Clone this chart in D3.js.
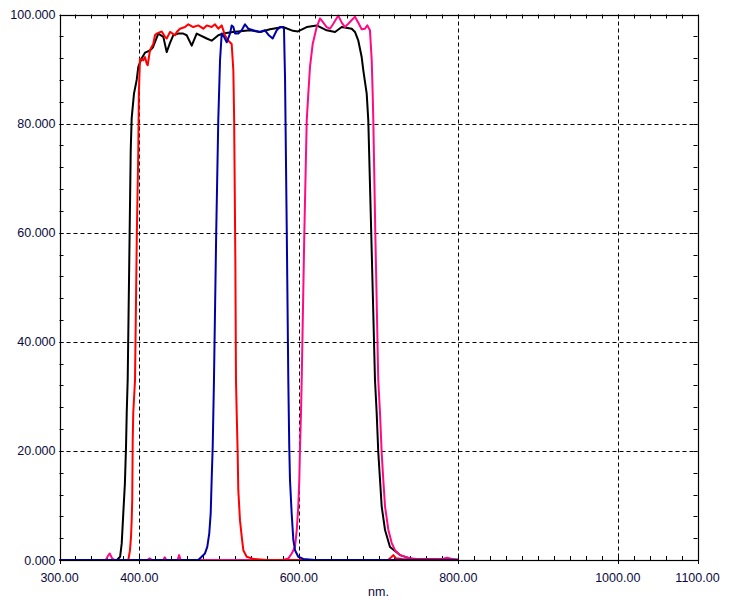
<!DOCTYPE html>
<html><head><meta charset="utf-8">
<script src="https://cdn.jsdelivr.net/npm/d3@7"></script>
<style>
body{margin:0;background:#fff;}
svg{display:block;}
text{font-family:"Liberation Sans",Arial,sans-serif;font-size:12.5px;fill:#0a0a40;}
</style></head>
<body><svg id="c" width="732" height="600"></svg>
<script>
// ---- data (wavelength nm, transmission %) ----
const blackSeries = [[300,0],[372,0],[376,0.6],[378,3],[380,8.6],[382,14],[383.4,20.7],[384.3,27],[385.5,33],[387.5,55],[389.3,75],[390.5,81],[393.4,85.5],[396.8,88],[398.8,90.4],[403.1,92],[407.2,93],[413.5,93.4],[417.2,94],[423.9,96.5],[430.2,95.9],[434.4,93.1],[438.6,94.8],[442.7,96.2],[448.6,96.5],[455.2,96.5],[459.5,96.2],[465.8,94.3],[472,96.5],[484.6,95.6],[490.8,95.2],[499.1,96.2],[505,96.5],[517.6,96.8],[538.9,97.1],[551.4,96.8],[564,97.3],[580.3,97.7],[592.8,97],[599,96.9],[610,97.7],[622.5,98],[635,97.1],[645.5,96.8],[653.9,97.7],[666.4,97.4],[670.5,96.8],[674.7,95.2],[678.9,92.2],[681,89.7],[685.2,85.5],[687.2,80.6],[690,65],[693,48],[695.6,33],[697.7,27],[699.7,19.8],[701.9,14.7],[704,9.8],[708.2,5.5],[714.4,2.4],[727,0.9],[739.5,0.3],[748,0],[800,0]];
const redSeries = [[300,0],[386.3,0],[388.4,1.8],[389.7,4.3],[390.5,7.3],[391.2,11],[391.8,22],[392.5,27],[394.7,33],[397,60],[398.8,75],[399.5,85.5],[400.9,91.9],[405.1,91.6],[407.2,92.2],[409.3,91],[410.6,90.7],[413.5,93.5],[417.6,94.6],[419.7,96.2],[421.9,96.5],[428.2,96.9],[432.3,95.9],[434.4,95.6],[438.6,96.8],[444.9,96.2],[447,96.8],[451.1,97.4],[457.4,97.7],[461.5,98.2],[467.8,97.7],[474,98],[480.3,97.4],[484.6,98],[490.8,97.7],[495,98.2],[499.1,97.4],[503.4,98],[507.5,96.2],[511.7,95.2],[515.9,94.6],[518,89.7],[519,80.6],[520.5,55],[521.3,33],[522.2,26.9],[523.4,19.6],[524.2,12.8],[526.3,7.3],[528.5,4.3],[530.5,1.8],[534.7,0.6],[543,0.2],[560,0],[712,0],[716,0.5],[718.6,0.9],[722,0.3],[730,0.2],[800,0.1]];
const blueSeries = [[300,0],[474,0],[478.3,0.6],[482.4,1.2],[485.3,2.4],[487.8,4.9],[489.6,8.6],[490.8,14.7],[492.1,20.7],[492.9,26.9],[493.7,33],[496.5,60],[499.1,80.6],[501.3,91.6],[503.4,96.5],[506.3,95.9],[509.7,94.9],[513.8,96.5],[515.9,98],[518,97.7],[520.1,96.5],[524.2,96.5],[528.5,97.1],[532.6,98.2],[536.7,97.4],[543,97.1],[551.4,96.8],[557.7,97.1],[561.8,96.3],[567.3,95.6],[572.4,97.1],[576.5,97.7],[579.9,97.7],[581.5,97.4],[582.3,91.6],[582.8,88.5],[583.4,80.6],[585,60],[586.9,33],[588.1,20.7],[589,14.7],[591.1,8.6],[593.2,3.7],[595.3,1.8],[599.4,0.6],[605.7,0.2],[620,0],[800,0]];
const pinkSeries = [[300,0],[358,0],[361,0.8],[363,1.2],[366,0.3],[369,0],[410,0],[413,0.3],[416,0],[430,0],[432,0.5],[434,0],[448,0],[450,0.9],[452,0],[580,0],[587,0.3],[591.2,1.2],[595.3,2.4],[597.5,5.5],[599.4,9.8],[600.7,14.7],[601.6,20.7],[602.8,26.9],[603.7,33],[607,60],[610,80.6],[612,85.5],[614.1,90.4],[617.5,94.6],[622.5,97.7],[626.7,99.3],[630.8,98.5],[635,97.7],[639.2,97.4],[643.3,98.3],[649.6,99.8],[653.9,98.5],[658,97.7],[662.1,98.3],[670.5,99.6],[674.7,98.5],[678.9,97.3],[683.1,97.4],[686,98],[689.3,97.1],[691.5,91.6],[692.7,85.5],[693.5,80.6],[696,60],[699.7,33],[701.9,26.9],[704,19.6],[706,14.7],[708.2,9.8],[712.4,5.5],[716.6,3.1],[720.7,1.8],[727,0.9],[739.5,0.3],[748,0.2],[780,0.2],[786,0.4],[792,0.2],[800,0]];
const xTickLabels = [300,400,600,800,1000,1100];
const yTickLabels = [0,20,40,60,80,100];
const xGrid = [400,600,800,1000];
const yGrid = [20,40,60,80];
const xLabel = "nm.";

const svg = d3.select("#c");
const L=59.5, R=697.5, T=14.5, B=560;
const x = d3.scaleLinear().domain([300,1100]).range([L,R]);
const y = d3.scaleLinear().domain([0,100]).range([B,T]);

// grid
const g = svg.append("g");
g.selectAll(".gx").data(xGrid).enter().append("line")
  .attr("x1",d=>Math.round(x(d))+0.5).attr("x2",d=>Math.round(x(d))+0.5)
  .attr("y1",T).attr("y2",B).attr("stroke","#000").attr("stroke-dasharray","4,3").attr("stroke-width",1);
g.selectAll(".gy").data(yGrid).enter().append("line")
  .attr("y1",d=>Math.round(y(d))+0.5).attr("y2",d=>Math.round(y(d))+0.5)
  .attr("x1",L).attr("x2",R).attr("stroke","#000").attr("stroke-dasharray","4,3").attr("stroke-width",1);

// minor ticks
const xMinor = d3.range(300,1100.1,20);
const yMinor = d3.range(0,100.1,4);
const tk = svg.append("g").attr("stroke","#000").attr("stroke-width",1);
xMinor.forEach(v=>{
  const px=Math.round(x(v))+0.5;
  tk.append("line").attr("x1",px).attr("x2",px).attr("y1",B).attr("y2",B-4);
  tk.append("line").attr("x1",px).attr("x2",px).attr("y1",T).attr("y2",T+4);
});
yMinor.forEach(v=>{
  const py=Math.round(y(v))+0.5;
  tk.append("line").attr("y1",py).attr("y2",py).attr("x1",L).attr("x2",L+4);
  tk.append("line").attr("y1",py).attr("y2",py).attr("x1",R).attr("x2",R-4);
});
xTickLabels.forEach(v=>{
  const px=Math.round(x(v))+0.5;
  tk.append("line").attr("x1",px).attr("x2",px).attr("y1",B).attr("y2",B+4);
});

// series
const line = d3.line().x(d=>x(d[0])).y(d=>y(d[1]));
const lg = svg.append("g").attr("fill","none").attr("stroke-width",2).attr("stroke-linejoin","round");
[[blackSeries,"#000000"],[pinkSeries,"#ff0a84"],[redSeries,"#ff0000"],[blueSeries,"#0000a8"]].forEach(([s,c])=>{
  lg.append("path").attr("d",line(s)).attr("stroke",c);
});

// frame
svg.append("rect").attr("x",Math.round(L)+0.5).attr("y",Math.round(T)+0.5)
  .attr("width",Math.round(R)-Math.round(L)).attr("height",Math.round(B)-Math.round(T))
  .attr("fill","none").attr("stroke","#000").attr("stroke-width",1.2);

// labels
svg.append("g").selectAll("text").data(yTickLabels).enter().append("text")
  .attr("x",L-4).attr("y",d=>y(d)).attr("dy","0.36em").attr("text-anchor","end")
  .text(d=>d3.format(".3f")(d));
svg.append("g").selectAll("text").data(xTickLabels).enter().append("text")
  .attr("x",d=>x(d)).attr("y",582).attr("text-anchor","middle")
  .text(d=>d3.format(".2f")(d));
svg.append("text").attr("x",(L+R)/2).attr("y",596).attr("text-anchor","middle").text(xLabel);
</script></body></html>
